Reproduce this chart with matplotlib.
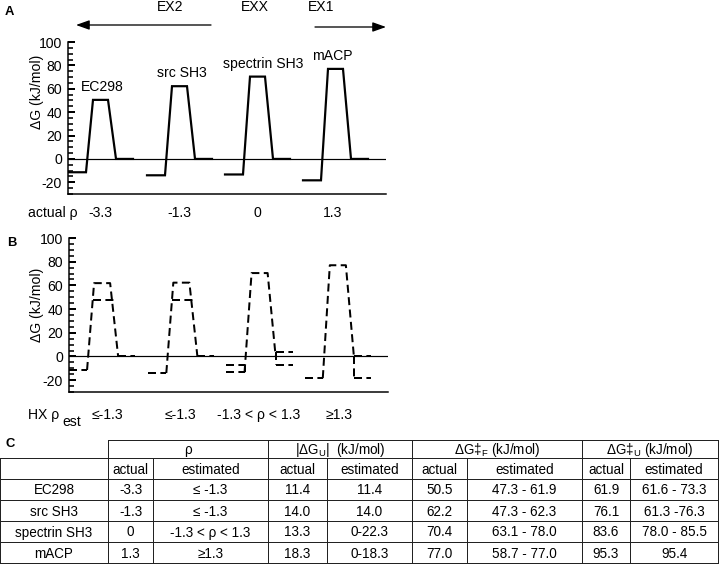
import matplotlib
matplotlib.use("Agg")
from matplotlib import pyplot as plt

plt.rcParams['font.family'] = ['Liberation Sans', 'DejaVu Sans']
plt.rcParams['mathtext.fontset'] = 'custom'
plt.rcParams['mathtext.rm'] = 'Liberation Sans'
plt.rcParams['axes.unicode_minus'] = False

W, H = 720, 564

# data
proteins = ["EC298", "src SH3", "spectrin SH3", "mACP"]
rho_actual = ["-3.3", "-1.3", "0", "1.3"]
rho_est = ["\u2264 -1.3", "\u2264 -1.3", "-1.3 < \u03c1 < 1.3", "\u22651.3"]
rho_est_plot = ["\u2264-1.3", "\u2264-1.3", "-1.3 < \u03c1 < 1.3", "\u22651.3"]
dGU_actual = [11.4, 14.0, 13.3, 18.3]
dGU_est = ["11.4", "14.0", "0-22.3", "0-18.3"]
dGF_actual = [50.5, 62.2, 70.4, 77.0]
dGF_est = ["47.3 - 61.9", "47.3 - 62.3", "63.1 - 78.0", "58.7 - 77.0"]
dGUts_actual = [61.9, 76.1, 83.6, 95.3]
dGUts_est = ["61.6 - 73.3", "61.3 -76.3", "78.0 - 85.5", "95.4"]

# levels drawn in panel B (HX estimates)
hx_left = [[-11.4], [-14.0], [-7.5, -13.3], [-18.3]]
hx_top = [[61.9, 47.3], [62.3, 47.3], [70.4], [77.0]]
hx_right = [[0.0], [0.0], [3.5, -7.5], [0.0, -18.3]]

yticks = [100, 80, 60, 40, 20, 0, -20]
yminor = [v for v in range(-30, 101, 5) if v % 20 != 0]

fig = plt.figure(figsize=(W / 72, H / 72), dpi=72)


def px_axes(l, t, r, b):
    return fig.add_axes([l / W, 1 - b / H, (r - l) / W, (b - t) / H])


ov = fig.add_axes([0, 0, 1, 1])
ov.set_xlim(0, W)
ov.set_ylim(H, 0)
ov.axis('off')

starts = [0, 79, 157, 235]
fs = 14


def style_axes(ax):
    ax.set_xlim(0, 318)
    ax.set_ylim(-30, 100)
    ax.spines['top'].set_visible(False)
    ax.spines['right'].set_visible(False)
    ax.spines['left'].set_linewidth(1.5)
    ax.spines['bottom'].set_linewidth(1.5)
    ax.set_xticks([])
    ax.set_yticks(yticks)
    ax.tick_params(axis='y', which='major', length=0, labelsize=fs, pad=6)
    # inward comb ticks along the left spine
    tr = ax.get_yaxis_transform()
    ax.hlines(yticks, 0, 7 / 318, transform=tr, color='black', lw=2.0,
              clip_on=False, zorder=4)
    ax.hlines(yminor, 0, 5 / 318, transform=tr, color='black', lw=1.6,
              clip_on=False, zorder=4)
    ax.axhline(0, color='black', lw=1.2, zorder=1)
    ax.patch.set_visible(False)


# panel A
axA = px_axes(68, 42, 386, 194)
style_axes(axA)
for i, s in enumerate(starts):
    gu, gf = dGU_actual[i], dGF_actual[i]
    axA.plot([s, s + 18, s + 25, s + 40, s + 48, s + 65],
             [-gu, -gu, gf, gf, 0, 0], color='black', lw=2.2,
             solid_joinstyle='miter', zorder=3)
label_dx = [34, 35, 38, 29]
for i, s in enumerate(starts):
    axA.text(s + label_dx[i], dGF_actual[i] + 11, proteins[i], ha='center',
             va='center', fontsize=14)

# panel B
axB = px_axes(69, 238, 388, 392)
style_axes(axB)
dash = dict(color='black', lw=2.0, linestyle=(0, (4.0, 2.2)), zorder=3)
for i, s in enumerate(starts):
    lo_left = min(hx_left[i])
    hi = hx_top[i][0]
    for L in hx_left[i]:
        axB.plot([s, s + 18], [L, L], **dash)
    if len(hx_left[i]) > 1:
        axB.plot([s + 18, s + 18], [max(hx_left[i]), lo_left], **dash)
    axB.plot([s + 18, s + 25, s + 41, s + 49], [lo_left, hi, hi, 0], **dash)
    for t in hx_top[i][1:]:
        x0 = s + 18 + 7 * (t - lo_left) / (hi - lo_left)
        x1 = s + 41 + 8 * (hi - t) / hi + 1.5
        axB.plot([x0, x1], [t, t], **dash)
    for R in hx_right[i]:
        axB.plot([s + 49, s + 66], [R, R], **dash)
    if len(hx_right[i]) > 1:
        axB.plot([s + 49, s + 49], [max(hx_right[i]), min(hx_right[i])], **dash)

# panel labels and annotations
ov.text(5, 12, "A", fontsize=13, fontweight='bold', va='center', ha='left')
ov.text(7, 243, "B", fontsize=13, fontweight='bold', va='center', ha='left')
ov.text(5, 444, "C", fontsize=13, fontweight='bold', va='center', ha='left')

ov.text(37, 92, "\u0394G (kJ/mol)", rotation=90, fontsize=fs, ha='center', va='center')
ov.text(37, 305, "\u0394G (kJ/mol)", rotation=90, fontsize=fs, ha='center', va='center')

ov.text(170, 7, "EX2", fontsize=fs, ha='center', va='center')
ov.text(255, 7, "EXX", fontsize=fs, ha='center', va='center')
ov.text(321, 7, "EX1", fontsize=fs, ha='center', va='center')
arrow = dict(arrowstyle="-|>,head_length=0.7,head_width=0.25", lw=1.3,
             color='black', mutation_scale=16, shrinkA=0, shrinkB=0)
ov.annotate("", xy=(76, 25), xytext=(211, 25), arrowprops=arrow)
ov.annotate("", xy=(386, 27), xytext=(315, 27), arrowprops=arrow)

ov.text(28, 213, "actual \u03c1", fontsize=fs, ha='left', va='center')
centers = [100, 179, 257, 333]
for c, v in zip(centers, rho_actual):
    ov.text(c, 213, v, fontsize=fs, ha='center', va='center')

ov.text(28, 415, "HX \u03c1", fontsize=fs, ha='left', va='center')
ov.text(62, 422, "est", fontsize=fs, ha='left', va='center')
est_centers = [107, 180, 259, 339]
for c, v in zip(est_centers, rho_est_plot):
    ov.text(c, 415, v, fontsize=fs, ha='center', va='center')

# panel C table
cols = [0, 108, 153, 268, 327, 412, 467, 582, 630, 718]
rows = [440, 458, 479, 500, 521, 542, 563]
lk = dict(color='#222222', lw=1.0)
ov.plot([108, 718], [rows[0], rows[0]], **lk)
for y in rows[1:]:
    ov.plot([0, 718], [y, y], **lk)
for x in [108, 268, 412, 582, 718]:
    ov.plot([x, x], [rows[0], rows[-1]], **lk)
for x in [0, 153, 327, 467, 630]:
    ov.plot([x, x], [rows[1], rows[-1]], **lk)

tfs = 13.5
headers = ["\u03c1", "|\u0394G$_{\\rm U}$|  (kJ/mol)", "\u0394G\u2021$_{\\rm F}$ (kJ/mol)",
           "\u0394G\u2021$_{\\rm U}$ (kJ/mol)"]
groups = [(108, 268), (268, 412), (412, 582), (582, 718)]
for (a, b), h in zip(groups, headers):
    ov.text((a + b) / 2, (rows[0] + rows[1]) / 2 + 1, h, fontsize=tfs,
            ha='center', va='center')
for j in range(1, 9):
    ov.text((cols[j] + cols[j + 1]) / 2, (rows[1] + rows[2]) / 2 + 1,
            "actual" if j % 2 == 1 else "estimated", fontsize=tfs,
            ha='center', va='center')

table_cols = [proteins, rho_actual, rho_est,
              ["%.1f" % v for v in dGU_actual], dGU_est,
              ["%.1f" % v for v in dGF_actual], dGF_est,
              ["%.1f" % v for v in dGUts_actual], dGUts_est]
for j, colvals in enumerate(table_cols):
    for r, v in enumerate(colvals):
        y = (rows[r + 2] + rows[r + 3]) / 2 + 1
        ov.text((cols[j] + cols[j + 1]) / 2, y, v, fontsize=tfs,
                ha='center', va='center')

fig.savefig("out.png", dpi=72)
